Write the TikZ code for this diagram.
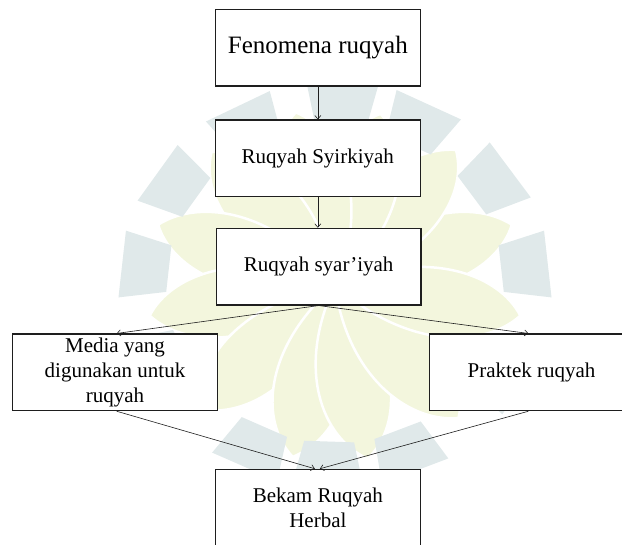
\documentclass[tikz,border=0pt]{standalone}
\usepackage{fontspec}
\setmainfont{Liberation Serif}
\usetikzlibrary{arrows.meta}
\definecolor{wmteal}{RGB}{224,233,234}
\definecolor{wmleaf}{RGB}{243,246,221}
\definecolor{ink}{RGB}{30,30,30}
\begin{document}
\begin{tikzpicture}[x=1pt,y=-1pt,
  box/.style={draw=ink, line width=1.1pt, fill=white, minimum width=204.5pt, minimum height=76.7pt, inner sep=2pt, align=center, font=\fontsize{21}{25}\selectfont},
  conn/.style={draw=ink, line width=0.6pt, -{Straight Barb[length=3.5pt,width=6pt]}}]
\useasboundingbox (0,0) rectangle (622,545);
\begin{scope}
\clip (0,0) rectangle (622,545);
% faint background watermark
\begin{scope}[shift={(335,285)}, x=192pt, y=180pt]
 \foreach \a in {20,50,76,102,131,160,190,225,257,280,311,350}{
   \fill[wmleaf, draw=white, line width=2.5pt] (0,0) .. controls (\a-34:0.5) and (\a-15:0.85) .. (\a:0.98) .. controls (\a+15:0.85) and (\a+34:0.5) .. (0,0);
 }
 \foreach \a in {6,35,64,88,117,146,174,205,245,268,292,330}{
   \fill[wmteal] (\a-8.5:0.88) -- (\a-9.5:1.13) -- (\a+9.5:1.13) -- (\a+8.5:0.88) -- cycle;
 }
\end{scope}
% boxes
\node[box, font=\fontsize{25}{30}\selectfont] (b1) at (317.85,47.65) {Fenomena ruqyah};
\node[box] (b2) at (317.85,158.35) {Ruqyah Syirkiyah};
\node[box] (b3) at (318.7,266.65) {Ruqyah syar’iyah};
\node[box] (b4) at (115,372.35) {Media yang\\digunakan untuk\\ruqyah};
\node[box] (b5) at (531.55,372.35) {Praktek ruqyah};
\node[box] (b6) at (317.85,507.65) {Bekam Ruqyah\\Herbal};
% connectors
\draw[conn] (b1.south) -- (b2.north);
\draw[conn] (b2.south) -- (b2.south |- b3.north);
\draw[conn] (b3.south) -- ([xshift=1.7pt]b4.north);
\draw[conn] (b3.south) -- ([xshift=-3.2pt]b5.north);
\draw[conn] ([xshift=1.7pt]b4.south) -- ([xshift=-3pt]b6.north);
\draw[conn] ([xshift=-3.2pt]b5.south) -- ([xshift=2pt]b6.north);
\end{scope}
\end{tikzpicture}
\end{document}
